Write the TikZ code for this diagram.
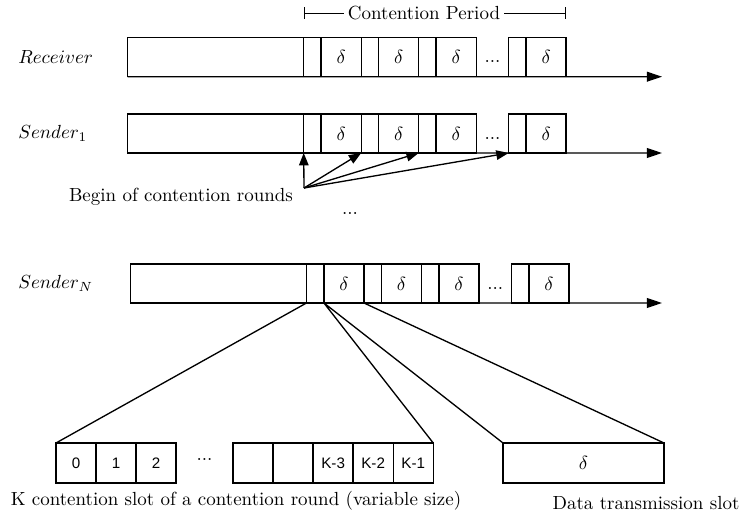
\documentclass[tikz,border=0pt]{standalone}
\usepackage{fontspec}
\setsansfont{Liberation Sans}
\usetikzlibrary{positioning, arrows.meta}

\begin{document}
\begin{tikzpicture}[x=0.527pt, y=-0.527pt, line width=0.7pt, node distance=0pt,
    every node/.style={outer sep=0pt},
    slot/.style={draw, inner sep=0pt, minimum height=20.55pt},
    idle/.style={slot, minimum width=92.75pt},
    cslot/.style={slot, minimum width=9.2pt},
    dslot/.style={slot, minimum width=21.1pt},
    dotgap/.style={inner sep=0pt, minimum width=#1},
    kslot/.style={draw, inner sep=0pt, minimum width=21.1pt, minimum height=21.1pt, font=\sffamily\footnotesize},
    axis/.style={-{Triangle[length=8pt, width=5.2pt]}},
    pointer/.style={-{Triangle[length=6.5pt, width=5pt]}}]
  \useasboundingbox (0,0) rectangle (740,520);

  % time lines of receiver and senders
  \foreach \row/\x/\y/\lab in {rc/127.7/37.7/Receiver, s1/127.7/114/Sender_1, sn/130.5/264/Sender_N} {
    \node[idle, anchor=north west] (\row0) at (\x,\y) {};
    \node[cslot] (\row1) [right=of \row0] {};
    \node[dslot] (\row2) [right=of \row1] {$\delta$};
    \node[cslot] (\row3) [right=of \row2] {};
    \node[dslot] (\row4) [right=of \row3] {$\delta$};
    \node[cslot] (\row5) [right=of \row4] {};
    \node[dslot] (\row6) [right=of \row5] {$\delta$};
    \node[dotgap=17.1pt, yshift=-2.5pt] (\row d) [right=of \row6] {...};
    \node[cslot] (\row7) [right=of \row d, yshift=2.5pt] {};
    \node[dslot] (\row8) [right=of \row7] {$\delta$};
    \node[anchor=west] (\row l) at (12,\y+19.5) {$\lab$};
    \coordinate (\row e) at (662,\y+39);
    \draw[axis] (\row0.south west) -- (\row e);
  }

  % begin of contention rounds
  \node (begin) at (181,197) {Begin of contention rounds};
  \coordinate (bg) at (304,188);
  \path[pointer] (bg) edge (s11.south west) edge (s13.south west)
    edge (s15.south west) edge (s17.south west);
  \node (vdots) at (350,213) {...};

  % one contention round and one data slot
  \node[kslot, anchor=north west] (c0) at (56,443) {0};
  \node[kslot] (c1) [right=of c0] {1};
  \node[kslot] (c2) [right=of c1] {2};
  \node[dotgap=30pt, yshift=2pt] (cd) [right=of c2] {...};
  \node[kslot] (cx) [right=of cd, yshift=-2pt] {};
  \node[kslot] (cy) [right=of cx] {};
  \node[kslot] (cK3) [right=of cy] {K-3};
  \node[kslot] (cK2) [right=of cK3] {K-2};
  \node[kslot] (cK1) [right=of cK2] {K-1};
  \node[slot, minimum width=84.85pt, minimum height=21.1pt, anchor=north west] (data) at (503,443) {$\delta$};

  \draw (sn1.south west) -- (c0.north west)
        (sn1.south east) -- (cK1.north east)
        (sn2.south west) -- (data.north west)
        (sn2.south east) -- (data.north east);

  \node (ktext) at (236,501) {K contention slot of a contention round (variable size)};
  \node (dtext) at (646,503) {Data transmission slot};

  % contention period
  \coordinate (cpl) at (303.7,13);
  \coordinate (cpr) at (566.2,13);
  \draw[{Bar[width=6pt]}-{Bar[width=6pt]}, line width=0.5pt] (cpl) -- (cpr);
  \node[fill=white, inner sep=2pt] (cp) at (424,13) {Contention Period};
\end{tikzpicture}
\end{document}
